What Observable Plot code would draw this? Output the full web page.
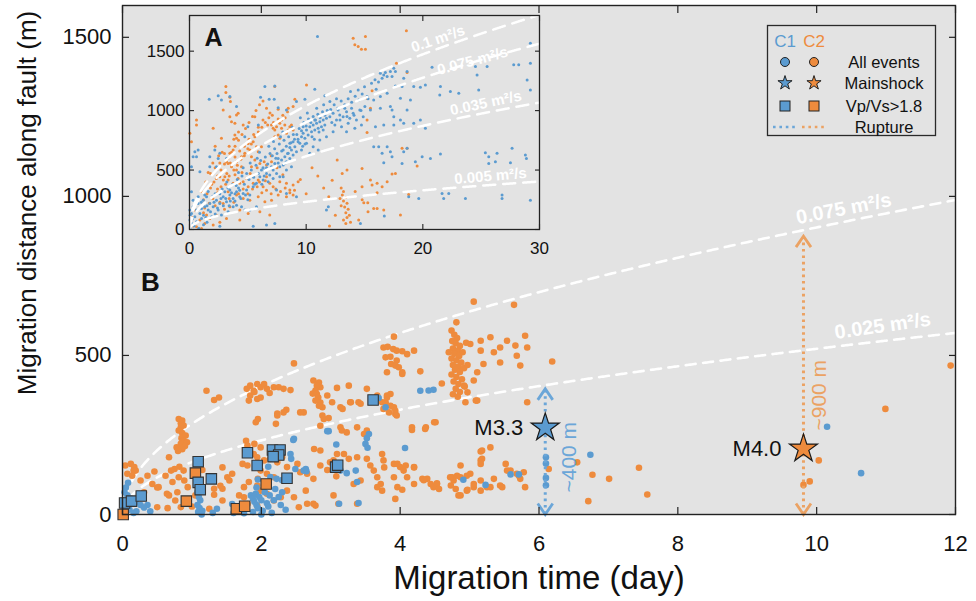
<!DOCTYPE html>
<html><head><meta charset="utf-8">
<script src="https://cdn.jsdelivr.net/npm/d3@7"></script>
<script src="https://cdn.jsdelivr.net/npm/@observablehq/plot@0.6"></script>
<style>
body{margin:0;background:#fff;}
#wrap{position:relative;width:976px;height:601px;font-family:"Liberation Sans",Arial,sans-serif;}
#wrap svg{position:absolute;}
</style></head><body><div id="wrap"></div>
<script>
// ---------- data ----------
const mainTicksX = [0,2,4,6,8,10,12];
const mainTicksY = [0,500,1000,1500];
const insetTicksX = [0,10,20,30];
const insetTicksY = [0,500,1000,1500];
const mainDiffusivity = [0.075, 0.025];
const insetDiffusivity = [0.1, 0.075, 0.035, 0.005];
const mainCurveLabels = [{text:"0.075 m²/s", t:10.39, d:961},{text:"0.025 m²/s", t:10.95, d:593}];
const insetCurveLabels = [{text:"0.1 m²/s", t:21.3, d:1603},{text:"0.075 m²/s", t:24.25, d:1418},{text:"0.035 m²/s", t:25.4, d:1064},{text:"0.005 m²/s", t:25.8, d:449}];
const mainshocks = [{cluster:"C1", t:6.09, d:273, label:"M3.3"},{cluster:"C2", t:9.81, d:207, label:"M4.0"}];
const ruptures = [{cluster:"C1", t:6.09, top:395, labelD:180, label:"~400 m"},{cluster:"C2", t:9.81, top:875, labelD:375, label:"~900 m"}];
const squaresC1 = [[0.03,36],[0.13,42],[0.27,58],[1.09,166],[1.09,101],[1.12,78],[1.28,112],[1.80,194],[1.94,154],[2.16,203],[2.27,203],[2.25,187],[2.17,182],[2.37,114],[3.07,149],[3.10,155],[3.61,360]];
const squaresC2 = [[0.01,0],[0.92,42],[1.05,130],[1.64,18],[1.76,26],[2.07,96]];
const mainC2 = [[0.07,128],[0.12,159],[0.17,149],[0.19,138],[0.26,107],[0.36,122],[0.46,135],[0.50,85],[0.04,154],[0.16,138],[0.14,122],[0.52,86],[0.31,70],[0.64,65],[0.72,102],[0.81,117],[0.88,138],[0.43,96],[0.67,60],[0.76,44],[0.50,23],[0.84,23],[0.62,122],[0.70,138],[0.75,143],[0.82,150],[0.89,107],[0.79,70],[0.65,20],[0.94,86],[0.67,180],
[0.81,300],[0.86,295],[0.84,287],[0.88,280],[0.84,274],[0.81,264],[0.86,256],[0.91,248],[0.85,240],[0.88,232],[0.93,227],[0.84,222],[0.78,211],[0.90,215],[0.86,205],[0.80,200],
[1.21,389],[1.32,360],[1.39,368],[1.25,18],[1.32,81],[1.44,81],[1.44,148],[1.54,107],[1.32,62],[1.41,90],[1.51,117],[1.58,128],[1.44,44],[1.05,60],[1.15,140],[1.00,25],
[1.79,395],[1.84,405],[1.89,389],[1.94,410],[1.99,400],[2.04,410],[2.08,395],[1.84,374],[1.94,363],[1.99,368],[1.82,358],[2.18,400],[2.25,400],[2.32,395],[2.42,391],[1.90,385],[2.12,382],[2.47,475],[2.36,329],[2.32,321],[2.23,311],[2.61,321],
[1.68,60],[1.73,159],[1.80,154],[1.75,86],[1.78,232],[1.90,222],[1.95,112],[1.92,290],[1.95,300],[2.23,317],[2.21,285],[1.66,23],[1.77,33],[1.80,217],[1.99,211],[1.77,201],[1.89,190],[1.94,180],[2.04,170],[2.13,175],[2.23,164],[2.30,180],[1.99,138],[2.08,128],[2.18,117],[1.82,102],[1.94,91],[1.99,75],[2.08,65],[2.18,44],[2.28,54],[2.37,75],[2.37,149],[2.52,159],[2.56,133],[2.66,128],[2.75,112],[2.64,75],[2.75,34],[1.75,54],[1.80,33],[1.94,28],[2.47,54],[2.54,23],[2.66,34],[2.78,28],[2.56,321],
[2.75,421],[2.83,415],[2.85,400],[2.80,405],[2.78,390],[2.74,380],[2.80,379],[2.82,368],[2.78,358],[2.85,352],[2.88,337],[2.83,342],[2.95,374],[3.02,353],[3.09,398],[3.14,337],[3.26,405],[3.28,353],[3.40,353],[3.52,395],[3.67,374],[3.74,353],[2.88,311],[2.90,300],[2.97,303],[3.14,274],[3.16,264],[3.23,258],[3.38,274],[3.52,264],[3.48,253],[3.17,332],[3.29,353],[3.43,348],[2.85,279],[2.76,206],
[2.85,201],[2.85,154],[2.99,164],[3.04,170],[3.09,190],[3.19,190],[3.26,175],[3.38,180],[3.52,175],[3.57,154],[3.62,138],[3.67,117],[3.72,96],[3.74,75],[3.67,86],[3.76,170],[3.91,159],[4.00,149],[4.05,138],[4.20,149],[3.91,117],[3.96,86],[4.10,117],[4.20,96],[3.04,60],[3.11,34],[3.38,34],[3.33,96],[3.43,107],[3.93,49],[3.74,190],[3.77,148],[2.95,140],[3.08,120],
[3.91,559],[3.76,525],[3.82,527],[3.90,520],[3.95,515],[4.03,513],[4.10,504],[4.20,515],[3.79,494],[3.86,496],[3.95,484],[3.87,473],[3.93,468],[3.98,463],[4.03,447],[3.81,447],[4.03,442],[4.29,450],[4.60,412],[4.51,290],[4.36,269],[4.17,266],[3.93,316],[3.91,337],[3.81,374],[3.86,379],[3.79,353],[3.76,332],[3.84,321],[3.81,368],[3.86,342],[3.93,326],[3.95,311],[4.17,274],[4.37,274],[4.49,290],
[4.32,112],[4.39,112],[4.44,96],[4.53,96],[4.72,117],[4.77,107],[4.87,117],[4.96,122],[5.06,86],[5.16,107],[5.25,86],[5.35,112],[5.44,91],[5.52,159],[5.59,138],[5.68,128],[5.16,170],[5.18,201],[5.30,211],[4.48,86],[4.84,60],[4.96,75],[5.16,75],[5.30,86],[5.73,112],[5.80,86],[5.16,198],[5.18,175],[5.16,159],[4.87,154],[5.01,128],[4.75,117],[4.82,122],[4.73,91],[4.80,80],[4.87,60],[4.97,78],[5.06,96],[5.47,86],[5.54,138],[5.78,133],[5.71,122],[4.34,108],[4.53,98],[4.56,80],[4.03,78],[4.20,148],[4.08,154],[3.96,159],
[4.74,578],[4.78,565],[4.82,555],[4.75,545],[4.80,538],[4.86,530],[4.76,522],[4.83,515],[4.90,510],[4.78,505],[4.85,498],[4.74,490],[4.81,485],[4.88,478],[4.76,470],[4.84,465],[4.92,460],[4.79,455],[4.86,448],[4.74,440],[4.81,432],[4.89,425],[4.77,418],[4.84,410],[4.93,402],[4.80,395],[4.86,385],[4.76,378],[4.83,370],[4.95,540],[4.97,470],[4.70,510],[4.81,604],
[5.01,536],[5.16,546],[5.30,557],[5.44,525],[5.54,546],[5.66,531],[5.80,562],[5.83,525],[5.68,499],[5.44,478],[5.20,473],[5.73,468],[5.11,447],[5.06,421],[4.92,405],[4.97,384],[5.11,358],[5.83,353],[5.16,515],[5.35,510],[5.06,669],[5.64,659],[4.94,353],[5.09,358],[6.19,481],
[6.55,164],[6.77,125],[7.01,112],[7.44,147],[7.56,63],[6.71,42],[6.14,143],[10.99,332],[10.03,170],[9.90,104],[9.81,93],[11.93,468]];
const mainC1 = [[0.05,85],[0.03,70],[0.07,60],[0.12,50],[0.14,35],[0.19,38],[0.26,30],[0.36,30],[0.31,22],[0.05,20],[0.02,45],[0.10,15],[0.20,10],[0.40,10],[0.16,5],[0.08,100],
[1.08,70],[1.10,55],[1.12,45],[1.08,30],[1.11,20],[1.09,8],[1.14,0],[1.15,12],[1.30,5],[1.36,18],[1.58,33],
[1.60,5],[1.70,10],[1.75,4],[1.85,60],[1.88,50],[1.90,40],[1.92,65],[1.93,30],[1.95,20],[1.97,55],[2.00,45],[2.02,12],[2.05,70],[2.08,35],[2.10,25],[2.12,60],[2.15,5],[2.18,45],[2.20,80],[2.25,55],[2.28,30],[2.30,70],[2.35,15],[2.05,100],[1.95,110],[2.13,118],[2.22,112],[2.30,108],[2.40,115],[2.43,175],[2.42,190],[2.49,143],[2.46,234],[2.47,238],[2.65,136],[2.61,138],[2.64,143],[1.98,160],[2.10,150],[1.93,85],[2.00,0],[1.88,8],
[2.97,262],[2.95,262],[3.08,220],[3.12,34],[3.40,36],[3.23,130],[3.36,138],[3.14,138],[3.38,102],[3.50,222],[3.52,240],[3.55,253],[3.53,210],[4.07,209],[3.69,366],[3.79,337],[4.29,389],[4.41,390],[4.48,392],[4.91,109],[5.23,93],[5.59,126],[5.71,126],[6.10,180],[6.10,160],[6.10,115],[6.10,92],[6.74,188],[10.15,276],[10.64,130]];
const insetC1 = [[0.03,163],[0.17,135],[0.31,191],[0.46,107],[0.6,163],[0.74,219],[0.89,135],[1.03,177],[1.17,247],[1.31,191],[1.46,275],[0.17,51],[0.6,65],[1.03,93],[0.31,247],[0.03,79],[1.6,163],[1.74,219],[1.89,107],[1.31,290],[0.74,275],[0.1,20],[0.4,30],[0.8,10],[1.2,40],[1.5,60],[0.05,120],[0.25,90],
[0.31,612],[0.46,655],[0.6,612],[0.17,528],[0.89,486],[0.17,318],[0.74,669],[2.31,528],[1.74,528],[2.6,641],[2.46,598],[3.17,598],[1.74,612],[2.17,669],
[10.97,1623],[6.46,1202],[7.31,1208],[6.83,1095],[7.26,1095],[6.09,1112],[2.46,1124],[1.69,1095],[2.74,1090],[3.46,1118],[4.03,1034],[7.6,1025],[8.31,1006],[9.17,1076],[9.89,1095],[10.74,1180],[11.6,1124],[12.03,1076],[14.46,1174],[5.0,865],[4.74,781],[5.9,879],
[2.03,191],[2.31,247],[2.6,219],[2.89,275],[3.17,233],[3.46,290],[3.74,261],[4.03,318],[4.31,275],[4.6,303],[4.89,332],[5.17,290],[5.46,360],[3.74,191],[4.03,205],[4.46,191],[4.74,163],[3.46,332],[3.03,318],[5.17,163],[5.74,191],[2.46,163],[3.31,149],[2.74,121],[3.9,240],[4.2,350],[5.0,250],[2.2,300],
[5.74,388],[6.03,444],[6.31,416],[6.6,472],[6.88,458],[7.03,528],[7.17,500],[7.31,556],[7.46,472],[7.74,528],[7.89,584],[8.03,542],[8.17,612],[8.31,570],[8.46,641],[8.6,598],[8.74,669],[8.88,627],[9.03,697],[9.17,655],[7.6,598],[6.74,402],[6.46,500],[8.31,500],[8.74,528],[7.74,444],[7.17,430],[6.17,500],[8.03,669],[8.6,725],[8.88,739],[9.31,739],[8.03,444],
[9.46,725],[9.6,781],[9.74,809],[9.89,767],[10.03,837],[10.17,795],[10.31,865],[10.46,823],[10.6,879],[10.74,837],[10.89,893],[11.03,851],[11.17,907],[11.31,865],[11.46,921],[11.6,879],[11.74,935],[10.03,725],[10.6,697],[11.17,753],[9.6,669],[10.31,641],[11.03,669],[11.74,781],[9.74,865],[10.74,921],[11.46,837],
[12.03,949],[12.31,977],[12.6,921],[12.88,963],[13.17,949],[13.46,991],[13.74,935],[14.03,977],[14.31,921],[14.6,1006],[14.89,949],[12.46,879],[13.03,865],[13.6,893],[14.17,851],[14.74,879],[12.74,1006],[13.31,1020],[13.89,1020],[15.03,1034],[12.31,823],[13.46,823],
[1.2,120],[1.5,200],[1.8,150],[2.1,230],[2.4,180],[2.7,260],[2.9,200],[1.0,230],[2.2,130],[2.6,300],[1.6,320],[2.0,280],[2.8,340],[1.4,100],
[3.1,260],[3.3,350],[3.5,240],[3.7,380],[3.9,300],[4.1,420],[4.3,330],[4.5,450],[4.7,380],[4.9,470],[3.2,400],[3.6,310],[4.0,370],[4.4,260],[4.8,290],[3.4,200],[4.6,520],[4.2,480],
[5.1,420],[5.3,500],[5.5,440],[5.7,540],[5.9,470],[6.1,580],[6.3,520],[6.5,610],[6.7,550],[6.9,640],[5.2,560],[5.6,380],[6.0,650],[6.4,450],[6.8,700],[5.8,600],[6.2,380],[6.6,520],
[7.1,620],[7.3,680],[7.5,640],[7.7,720],[7.9,660],[8.1,750],[8.3,700],[8.5,780],[8.7,730],[8.9,800],[7.2,740],[7.6,560],[8.0,820],[8.4,640],[8.8,860],[7.8,780],[8.2,560],[8.6,690],[9.0,760],[7.4,600],
[9.2,800],[9.4,850],[9.6,830],[9.8,900],[10.0,870],[10.2,930],[10.4,900],[10.6,950],[10.8,920],[11.0,970],[11.2,940],[11.4,990],[11.6,960],[11.8,1000],[9.3,760],[9.9,720],[10.5,780],[11.1,820],[9.5,940],[10.1,980],[10.9,1020],[11.5,1050],[9.7,700],[10.7,760],
[12.1,1010],[12.4,1050],[12.7,1020],[13.0,1080],[13.3,1050],[13.6,1100],[13.9,1070],[14.2,1120],[14.5,1090],[14.8,1140],[12.2,900],[12.9,920],[13.5,950],[14.1,960],[14.7,1000],[12.6,1100],[13.8,1160],[15.0,1200],[15.3,1100],[15.6,1230],[15.9,1260],[16.2,1240],[16.0,1180],
[7.46,332],[8.31,303],[9.17,275],[11.9,191],[11.74,163],[2.6,28],[5.46,28],[6.6,37],[7.31,51],[14.65,51],
[16.36,1314],[16.79,1320],[17.22,1329],[17.65,1329],[16.65,1300],[17.36,1286],[17.51,1357],[18.65,1329],[18.36,1272],[16.51,1272],[16.94,1286],[17.65,1208],[18.22,1202],[19.22,1202],[19.79,1197],[20.22,1216],[21.51,1202],[21.45,1132],[22.36,1160],[23.08,1146],[24.51,1371],[24.65,1300],[24.79,1174],[25.51,1371],[27.79,1385],[28.22,1385],[29.22,1399],[28.94,1258],[29.22,1174],[29.22,1567],[20.79,1365],
[15.22,1118],[15.79,1090],[16.36,1118],[16.94,1146],[18.08,1104],[18.94,1090],[15.51,1006],[16.36,1020],[17.36,1006],[18.65,1006],[19.79,921],[20.22,851],[19.22,893],[18.36,893],[17.51,879],[16.65,879],[15.94,865],[17.51,949],[18.08,921],[17.22,1034],
[15.79,697],[16.22,697],[16.94,697],[16.51,641],[17.22,655],[17.36,612],[18.36,655],[18.65,683],[16.65,562],[18.22,556],[19.36,570],[19.94,612],[20.65,598],[21.51,635],[25.36,646],[25.65,612],[26.36,641],[25.65,556],[26.22,570],[27.51,562],[27.65,683],[28.79,627],[28.88,598],
[18.79,275],[19.65,261],[21.65,303],[22.22,303],[21.79,261],[23.65,261],[26.79,290],[26.79,261],[29.22,247],[16.7,113]];
const insetC2 = [[14.03,1609],[14.17,1553],[14.46,1539],[14.74,1517],[3.12,1202],[3.12,1152],[3.46,1112],[3.51,1076],[7.31,1202],[10.03,1216],[9.03,1095],[8.88,1034],[8.46,1020],[7.6,1011],[0.03,809],[0.17,739],[0.6,921],[0.6,879],[2.89,1006],[3.46,949],[3.6,907],[3.89,893],[4.03,963],[4.17,977],[3.89,795],[4.03,767],[2.03,851],[2.74,767],[5.6,949],
[7.03,879],[7.17,851],[7.31,837],[7.46,865],[7.6,795],[7.74,893],[7.89,851],[8.17,879],[8.31,809],[8.46,837],[8.6,865],[8.74,879],[8.88,837],[7.31,781],[7.74,767],[7.9,920],[8.2,940],
[5.03,724],[5.46,739],[5.74,697],[5.17,669],[5.89,655],[5.31,612],[5.6,584],[6.17,697],[3.46,641],[3.74,669],[4.46,612],[4.74,641],[5.31,528],[6.03,556],[6.6,542],[7.03,570],
[4.03,570],[4.46,528],[4.03,500],[3.17,570],[3.31,556],[3.6,528],
[3.03,443],[3.31,416],[3.74,388],[4.17,430],[4.6,402],[5.03,360],[5.46,388],[5.89,416],[6.6,444],[6.31,360],[6.88,388],[7.17,360],[7.74,402],[8.31,388],[8.6,332],[8.88,374],[9.31,402],
[3.31,318],[4.03,290],[4.6,261],[5.17,247],[5.89,275],[6.46,233],[7.03,247],[7.6,290],[8.31,275],[8.88,290],
[2.89,219],[3.46,191],[4.31,163],[5.03,135],[6.03,149],[6.88,121],[3.17,93],[4.31,79],
[0.89,79],[1.31,51],[1.74,93],[2.03,37],[0.6,23],[1.03,9],[1.46,121],[0.46,163],[0.3,30],[0.2,100],[1.2,140],[2.3,120],[2.6,60],
[2.6,443],[2.9,416],[3.2,470],[3.9,460],[4.3,388],[4.9,430],[5.5,450],[6.0,400],[6.5,410],[2.2,700],[2.5,620],[2.0,560],[2.8,650],[1.6,480],[2.3,430],[1.9,380],[2.4,340],
[1.2,250],[1.5,300],[1.8,350],[2.1,400],[2.4,450],[2.7,500],[3.0,550],[3.3,600],[3.6,650],[3.9,700],[4.2,750],[4.5,800],[4.8,850],[5.1,900],[5.4,950],[5.7,1000],[6.0,1050],[6.3,1080],[6.6,1020],[6.9,980],
[1.3,180],[1.7,220],[2.0,260],[2.4,310],[2.7,360],[3.1,380],[3.4,450],[3.8,500],[4.1,540],[4.4,590],[4.7,620],[5.0,680],[5.3,720],[5.6,780],[5.9,820],[6.2,860],[6.5,900],[6.8,940],[7.1,960],
[2.2,200],[2.6,230],[3.0,170],[3.4,260],[3.8,230],[4.2,300],[4.6,340],[5.0,300],[5.4,340],[5.8,360],[6.2,310],[6.6,330],[7.0,300],[7.4,340],[7.8,320],[8.2,350],[8.6,310],[9.0,330],
[3.5,560],[3.9,610],[4.3,660],[4.7,700],[5.1,760],[5.5,800],[5.9,860],[6.3,920],[6.7,880],[7.2,900],[7.6,930],[8.0,960],[8.4,990],[4.5,480],[5.2,470],[5.8,520],[6.4,570],[7.0,620],[7.5,520],[8.0,460],
[1.0,320],[1.4,400],[1.8,470],[2.2,520],[2.6,560],[3.0,640],[3.4,700],[3.8,760],[4.2,820],[4.6,880],
[13.0,350],[13.2,320],[13.1,290],[13.4,270],[13.2,240],[13.5,220],[13.3,190],[13.6,170],[13.4,140],[13.7,120],[13.5,100],[13.2,80],[13.8,60],[13.4,50],[13.0,200],[12.9,260],[12.66,584],[13.09,472],[13.5,500],[12.23,415],[11.94,275],[14.2,320],[14.8,250],[15.3,150],[14.5,80],[12.5,120],[11.5,350],[11.0,450],[10.5,520],[10.0,300],[9.5,420],[12.0,30],
[15.08,1623],[15.08,1517],[18.59,1671],[17.74,1399],[18.65,1320],[15.65,1168],[15.22,1104],[15.51,1020],[15.22,921],[15.22,815],[18.22,683],[18.65,683],[19.51,534],[17.36,466],[17.65,472],[14.79,514],[15.51,416],[15.65,374],[14.79,360],[16.08,388],[16.51,360],[16.94,402],[16.08,309],[18.79,295],[14.94,225],[15.28,225],[15.79,177],[16.08,177],[16.65,163],[18.08,121]];
const legendClusters = ["C1","C2"];
const legendRows = ["All events","Mainshock","Vp/Vs>1.8","Rupture"];

// ---------- styling ----------
const COL = {C1:"#5b9bd0", C2:"#ee8b3d"};
const RUP = {C1:"#6ba6d8", C2:"#eba263"};
const BG = "#e3e3e3", INK = "#111";
const FONT = "Liberation Sans, Arial, Helvetica, sans-serif";
const fmt = d3.format("d");

// diffusion front r = sqrt(4*pi*D*t), t in days
const front = (D, t) => Math.sqrt(4 * Math.PI * D * t * 86400);
const curves = (Ds, tmax, step) => Ds.flatMap(D => d3.range(0, tmax + step/2, step).map(t => ({D, t, r: front(D, t)})));

const chevUp = {draw(c){ c.moveTo(-7.5, 11); c.lineTo(0, 0); c.lineTo(7.5, 11); }};
const chevDown = {draw(c){ c.moveTo(-7.5, -11); c.lineTo(0, 0); c.lineTo(7.5, -11); }};

const wrap = document.getElementById("wrap");

// ---------- main panel (B) ----------
const rupMarks = ["C1","C2"].flatMap(k => {
  const rs = ruptures.filter(r => r.cluster === k);
  return [
    Plot.ruleX(rs, {x:"t", y1:0, y2:"top", stroke:RUP[k], strokeWidth:3, strokeDasharray:"2.6,3.8"}),
    Plot.dot(rs, {x:"t", y:"top", symbol:chevUp, fill:"none", stroke:RUP[k], strokeWidth:2.8, r:6}),
    Plot.dot(rs, {x:"t", y:() => 0, symbol:chevDown, fill:"none", stroke:RUP[k], strokeWidth:2.8, r:6}),
    Plot.text(rs, {x:"t", y:"labelD", text:"label", rotate:-90, dx: k === "C1" ? 24 : 16, fill:RUP[k], fontSize:21, textAnchor:"middle", lineAnchor:"middle"})
  ];
});

const main = Plot.plot({
  width: 976, height: 601,
  marginLeft: 122, marginRight: 21, marginTop: 5, marginBottom: 87,
  style: {background:"white", fontFamily: FONT, color: INK, overflow:"visible"},
  x: {domain:[0,12]},
  y: {domain:[0,1600]},
  marks: [
    Plot.frame({fill:BG, stroke:null}),
    Plot.line(curves(mainDiffusivity, 12, 0.02), {x:"t", y:"r", z:"D", stroke:"white", strokeWidth:2.6, strokeDasharray:"10,7.5", clip:true}),
    Plot.text(mainCurveLabels.slice(0,1), {x:"t", y:"d", text:"text", rotate:-11, fill:"white", fontWeight:"bold", fontSize:20}),
    Plot.text(mainCurveLabels.slice(1,2), {x:"t", y:"d", text:"text", rotate:-8, fill:"white", fontWeight:"bold", fontSize:20}),
    Plot.dot(mainC2, {x:d=>d[0], y:d=>d[1], r:3.3, fill:COL.C2}),
    Plot.dot(mainC1, {x:d=>d[0], y:d=>d[1], r:3.3, fill:COL.C1}),
    ...rupMarks,
    Plot.dot(squaresC2, {x:d=>d[0], y:d=>d[1], symbol:"square", r:5.9, fill:COL.C2, stroke:"#333", strokeWidth:1.1}),
    Plot.dot(squaresC1, {x:d=>d[0], y:d=>d[1], symbol:"square", r:5.9, fill:COL.C1, stroke:"#333", strokeWidth:1.1}),
    Plot.dot(mainshocks.filter(m=>m.cluster==="C1"), {x:"t", y:"d", symbol:"star", r:8.8, fill:COL.C1, stroke:"#1a1a1a", strokeWidth:1.2}),
    Plot.dot(mainshocks.filter(m=>m.cluster==="C2"), {x:"t", y:"d", symbol:"star", r:8.8, fill:COL.C2, stroke:"#1a1a1a", strokeWidth:1.2}),
    Plot.text(mainshocks, {x:"t", y:"d", text:"label", dx:-22, textAnchor:"end", lineAnchor:"middle", fontSize:22, fill:INK}),
    Plot.text(["B"], {frameAnchor:"top-left", dx:28, dy:277, fontSize:26, fontWeight:"bold", fill:INK, textAnchor:"middle", lineAnchor:"middle"}),
    Plot.text(["Migration time (day)"], {frameAnchor:"bottom", dy:64, fontSize:33, fill:INK, textAnchor:"middle", lineAnchor:"middle"}),
    Plot.text(["Migration distance along fault (m)"], {frameAnchor:"left", dx:-95, dy:-57, rotate:-90, fontSize:26, fill:INK, textAnchor:"middle", lineAnchor:"middle"}),
    Plot.axisX({ticks:mainTicksX, tickFormat:fmt, tickSize:0, tickPadding:21, fontSize:22, fill:INK, label:null}),
    Plot.axisX({ticks:mainTicksX, tickSize:-7, fill:"none", stroke:"#222", strokeWidth:1.2, label:null}),
    Plot.axisX({ticks:mainTicksX, anchor:"top", tickSize:-7, fill:"none", stroke:"#222", strokeWidth:1.2, label:null}),
    Plot.axisY({ticks:mainTicksY, tickFormat:fmt, tickSize:0, tickPadding:11, fontSize:22, fill:INK, label:null}),
    Plot.axisY({ticks:mainTicksY, tickSize:-7, fill:"none", stroke:"#222", strokeWidth:1.2, label:null}),
    Plot.axisY({ticks:mainTicksY, anchor:"right", tickSize:-7, fill:"none", stroke:"#222", strokeWidth:1.2, label:null}),
    Plot.frame({stroke:"#222", strokeWidth:1.4})
  ]
});
main.style.left = "0px"; main.style.top = "0px";
wrap.appendChild(main);

// ---------- inset panel (A) ----------
const insetAngles = [-19, -15, -12, -5];
const inset = Plot.plot({
  width: 410, height: 260,
  marginLeft: 49, marginRight: 11, marginTop: 10, marginBottom: 36,
  style: {background:"transparent", fontFamily: FONT, color: INK, overflow:"visible"},
  x: {domain:[0,30]},
  y: {domain:[0,1800]},
  marks: [
    Plot.frame({fill:BG, stroke:null}),
    Plot.dot(insetC2, {x:d=>d[0], y:d=>d[1], r:1.5, fill:COL.C2}),
    Plot.dot(insetC1, {x:d=>d[0], y:d=>d[1], r:1.5, fill:COL.C1}),
    Plot.line(curves(insetDiffusivity, 30, 0.05), {x:"t", y:"r", z:"D", stroke:"white", strokeWidth:2.5, strokeDasharray:"12,8", clip:true}),
    ...insetCurveLabels.map((l, i) => Plot.text([l], {x:"t", y:"d", text:"text", rotate:insetAngles[i], fill:"white", fontWeight:"bold", fontSize:15})),
    Plot.text(["A"], {frameAnchor:"top-left", dx:24, dy:22, fontSize:25, fontWeight:"bold", fill:INK, textAnchor:"middle", lineAnchor:"middle"}),
    Plot.axisX({ticks:insetTicksX, tickFormat:fmt, tickSize:0, tickPadding:12, fontSize:17, fill:INK, label:null}),
    Plot.axisX({ticks:insetTicksX, tickSize:-5, fill:"none", stroke:"#222", strokeWidth:1.1, label:null}),
    Plot.axisX({ticks:insetTicksX, anchor:"top", tickSize:-5, fill:"none", stroke:"#222", strokeWidth:1.1, label:null}),
    Plot.axisY({ticks:insetTicksY, tickFormat:fmt, tickSize:0, tickPadding:5, fontSize:17, fill:INK, label:null}),
    Plot.axisY({ticks:insetTicksY, tickSize:-5, fill:"none", stroke:"#222", strokeWidth:1.1, label:null}),
    Plot.axisY({ticks:insetTicksY, anchor:"right", tickSize:-5, fill:"none", stroke:"#222", strokeWidth:1.1, label:null}),
    Plot.frame({stroke:"#222", strokeWidth:1.3})
  ]
});
inset.style.left = "140px"; inset.style.top = "5px";
wrap.appendChild(inset);

// ---------- legend ----------
const leg = d3.create("svg").attr("width", 172).attr("height", 114)
  .style("left", "766px").style("top", "24px").style("font-family", FONT);
leg.append("rect").attr("x", 1.5).attr("y", 1.5).attr("width", 168).attr("height", 110)
  .attr("fill", BG).attr("stroke", "#2a2a2a").attr("stroke-width", 1.3);
const colX = [19, 48], rowY = [38, 59, 82, 103];
legendClusters.forEach((k, i) => {
  leg.append("text").attr("x", colX[i]).attr("y", 17).attr("text-anchor", "middle").attr("dominant-baseline", "central")
    .attr("font-size", 17).attr("fill", COL[k]).text(k);
  leg.append("circle").attr("cx", colX[i]).attr("cy", rowY[0]).attr("r", 4.5).attr("fill", COL[k]).attr("stroke", "#222").attr("stroke-width", 1);
  leg.append("path").attr("d", d3.symbol(d3.symbolStar, 62)()).attr("transform", `translate(${colX[i]},${rowY[1]})`)
    .attr("fill", COL[k]).attr("stroke", "#222").attr("stroke-width", 1);
  leg.append("rect").attr("x", colX[i] - 5).attr("y", rowY[2] - 5).attr("width", 10).attr("height", 10)
    .attr("fill", COL[k]).attr("stroke", "#222").attr("stroke-width", 1);
  leg.append("line").attr("x1", colX[i] - 12).attr("x2", colX[i] + 13).attr("y1", rowY[3]).attr("y2", rowY[3])
    .attr("stroke", RUP[k]).attr("stroke-width", 2.6).attr("stroke-dasharray", "2.6,3.8");
});
legendRows.forEach((t, i) => {
  leg.append("text").attr("x", 118).attr("y", rowY[i]).attr("text-anchor", "middle").attr("dominant-baseline", "central")
    .attr("font-size", 16.5).attr("fill", INK).text(t);
});
wrap.appendChild(leg.node());
</script>
</body></html>
